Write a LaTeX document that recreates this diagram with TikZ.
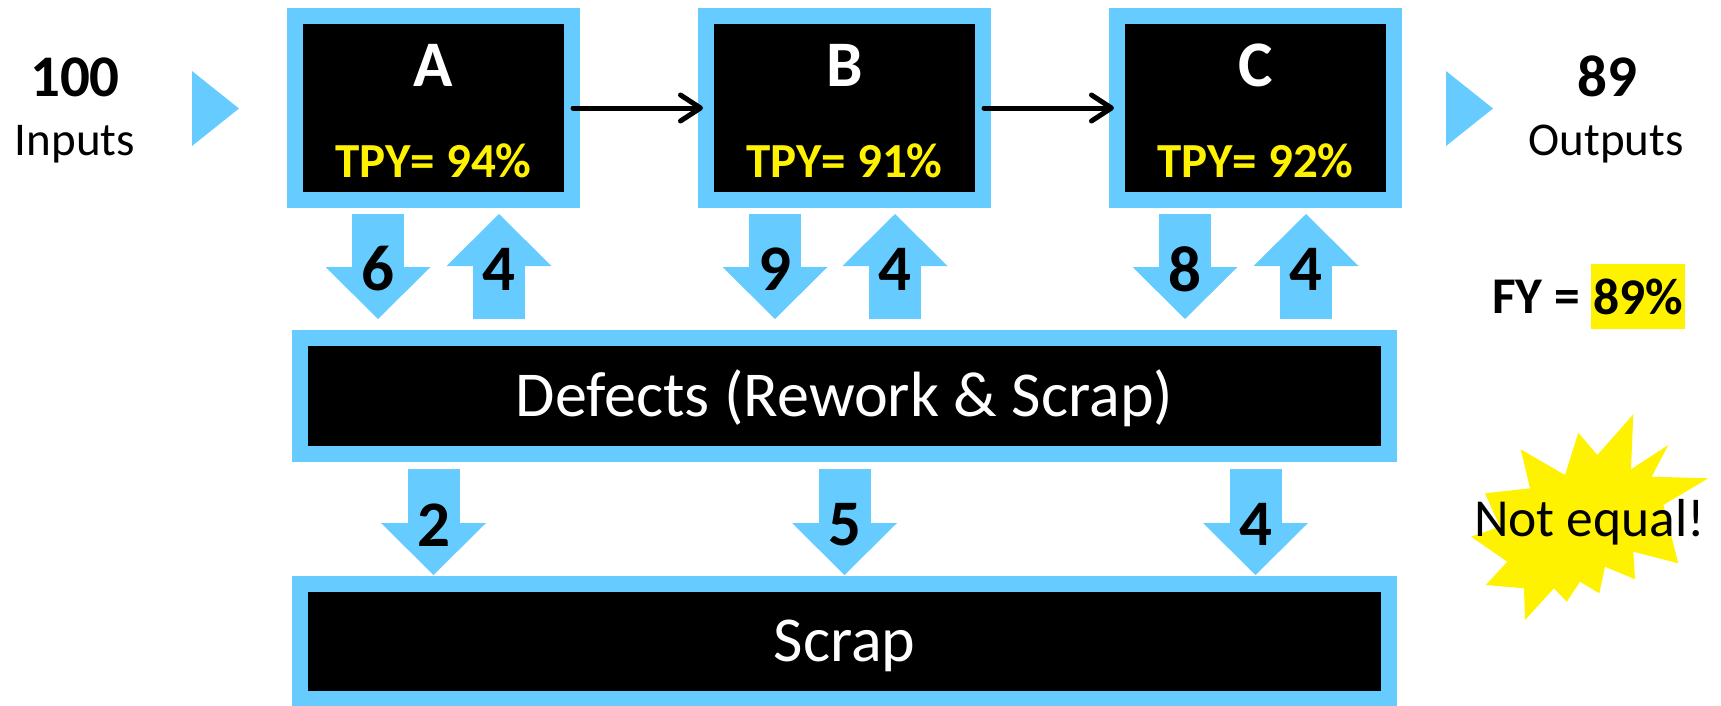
\documentclass[tikz,border=0pt]{standalone}
\usepackage{fontspec}
\setmainfont{Carlito}
\usetikzlibrary{arrows.meta, positioning, calc}
\definecolor{skyblue}{HTML}{66CCFF}

\begin{document}
\begin{tikzpicture}[x=1pt, y=1pt,
    stage/.style={rectangle, draw=skyblue, line width=16pt, fill=black,
                  minimum width=277pt, minimum height=184pt},
    pool/.style={rectangle, draw=skyblue, line width=16pt, fill=black, minimum width=1089pt,
                 text=white, text height=40pt, text depth=0pt, font=\fontsize{64}{70}\selectfont},
    stagename/.style={text=white, font=\fontsize{65}{70}\selectfont\bfseries},
    tpy/.style={text=yellow, font=\fontsize{49}{55}\selectfont\bfseries},
    num/.style={text=black, font=\fontsize{65}{70}\selectfont\bfseries},
    iocount/.style={anchor=base, font=\fontsize{59}{62}\selectfont\bfseries},
    iolabel/.style={anchor=base, font=\fontsize{47}{50}\selectfont},
    flow/.style={draw=skyblue, line width=52pt, -{Triangle[length=52pt, width=105pt, line width=0pt]}},
    link/.style={draw=black, line width=5pt, line cap=round, -{Straight Barb[length=20pt, width=26pt, round]}}]

    \useasboundingbox (0,0) rectangle (1721,-705);

    % Nodes
    \node[stage] (A) at (433.5,-108) {};
    \node[stage, right=118pt of A] (B) {};
    \node[stage, right=118pt of B] (C) {};
    \node[pool, minimum height=116pt, below=122pt of B] (def) {Defects (Rework \& Scrap)};
    \node[pool, minimum height=115pt, below=114pt of def] (scrap) {Scrap};

    \node[stagename] (Aname) at ([yshift=43pt]A.center) {A};
    \node[stagename] (Bname) at ([yshift=43pt]B.center) {B};
    \node[stagename] (Cname) at ([yshift=43pt]C.center) {C};
    \node[tpy] (Atpy) at ([yshift=-53pt]A.center) {TPY= 94\%};
    \node[tpy] (Btpy) at ([yshift=-53pt]B.center) {TPY= 91\%};
    \node[tpy] (Ctpy) at ([yshift=-53pt]C.center) {TPY= 92\%};

    % Inputs and outputs
    \node[iocount] (in) at (75,-96) {100};
    \node[iolabel] (inlabel) at (75,-155.5) {Inputs};
    \node[iocount] (out) at (1607,-96) {89};
    \node[iolabel] (outlabel) at (1606,-155.5) {Outputs};
    \fill[skyblue] (192,-71) -- (239,-108.5) -- (192,-146) -- cycle;
    \fill[skyblue] (1446,-71) -- (1493,-108.5) -- (1446,-146) -- cycle;

    \node[fill=yellow, inner xsep=2pt, minimum height=65pt,
          font=\fontsize{51.5}{55}\selectfont\bfseries] (fyval) at (1638,-296.5) {89\%};
    \node[inner sep=0pt, left=11pt of fyval, font=\fontsize{51.5}{55}\selectfont\bfseries] (fy) {FY =};

    % Burst
    \fill[yellow] (1633.3,-414.3) -- (1631,-469.3) -- (1668.3,-445) -- (1651.7,-476.7)
        -- (1708.3,-478.3) -- (1663.3,-505) -- (1678.3,-563.3) -- (1633.3,-551.7)
        -- (1635,-579.3) -- (1605,-566.7) -- (1599.3,-593.3) -- (1580,-581.7)
        -- (1566.7,-601.7) -- (1554,-588.3) -- (1525,-620) -- (1524,-588.3)
        -- (1485.7,-585) -- (1507.3,-561.7) -- (1471,-536.7) -- (1500,-526.7)
        -- (1485,-493.3) -- (1530,-488.3) -- (1520.7,-449.3) -- (1565,-475)
        -- (1578.3,-432.7) -- (1597.3,-455) -- cycle;
    \node[anchor=base, font=\fontsize{53.5}{56}\selectfont] (noteq) at (1589.5,-536) {Not equal!};

    % Arrows
    \draw[link, shorten <=-7pt, shorten >=-5pt] (A.east) -- (B.west);
    \draw[link, shorten <=-7pt, shorten >=-5pt] (B.east) -- (C.west);

    \draw[flow, shorten <=6pt, shorten >=11pt] ($(A.south)+(-55.5,0)$) -- node[num] {6} ($(A.south |- def.north)+(-55.5,0)$);
    \draw[flow, shorten <=11pt, shorten >=6pt] ($(A.south |- def.north)+(65.5,0)$) -- node[num] {4} ($(A.south)+(65.5,0)$);
    \draw[flow, shorten <=6pt, shorten >=11pt] ($(B.south)+(-69.5,0)$) -- node[num] {9} ($(B.south |- def.north)+(-69.5,0)$);
    \draw[flow, shorten <=11pt, shorten >=6pt] ($(B.south |- def.north)+(50.5,0)$) -- node[num] {4} ($(B.south)+(50.5,0)$);
    \draw[flow, shorten <=6pt, shorten >=11pt] ($(C.south)+(-70.5,0)$) -- node[num] {8} ($(C.south |- def.north)+(-70.5,0)$);
    \draw[flow, shorten <=11pt, shorten >=6pt] ($(C.south |- def.north)+(50.5,0)$) -- node[num] {4} ($(C.south)+(50.5,0)$);

    \draw[flow, shorten <=7pt, shorten >=1pt] (A.south |- def.south) -- node[num, pos=.55] {2} (A.south |- scrap.north);
    \draw[flow, shorten <=7pt, shorten >=1pt] (B.south |- def.south) -- node[num, pos=.55] {5} (B.south |- scrap.north);
    \draw[flow, shorten <=7pt, shorten >=1pt] (C.south |- def.south) -- node[num, pos=.55] {4} (C.south |- scrap.north);

\end{tikzpicture}
\end{document}
